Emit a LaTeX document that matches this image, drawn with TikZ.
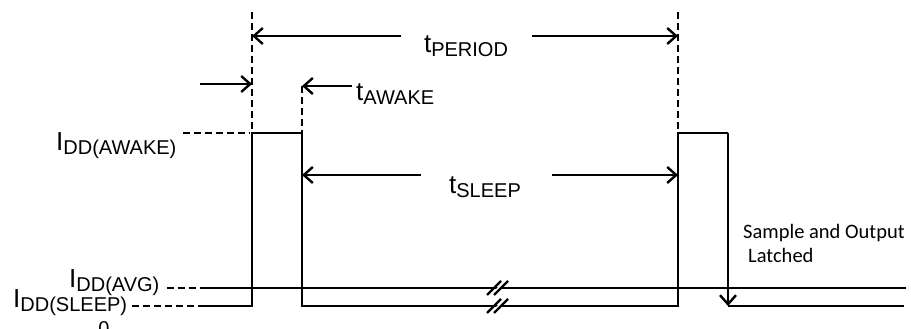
\documentclass[tikz,border=0pt]{standalone}
\usepackage{fontspec}
\setmainfont{Liberation Sans}
\newfontfamily\calfont{Carlito}
\usepackage{tikz}
\usetikzlibrary{arrows.meta,positioning}

\newcommand{\lowsub}[1]{\raisebox{-4pt}{\fontsize{20}{20}\selectfont #1}}

\begin{document}
\begin{tikzpicture}[x=1pt,y=-1pt,line width=2.4pt,
                    >={Straight Barb[length=9pt,width=16pt]}]
  \tikzstyle{every node}=[inner sep=0pt,font=\fontsize{26}{28}\selectfont]
  \tikzstyle{guide}=[dash pattern=on 7pt off 4pt]
  \tikzstyle{note}=[anchor=base west,font=\calfont\fontsize{20.5}{24}\selectfont]

  \useasboundingbox (0,0) rectangle (911,329);

  \coordinate (s0) at (205,306);
  \coordinate (a0) at (205,288);
  \coordinate (r1b) at (252,306);
  \coordinate (r1t) at (252,133);
  \coordinate (f1t) at (302,133);
  \coordinate (f1b) at (302,306);
  \coordinate (r2b) at (678,306);
  \coordinate (r2t) at (678,133);
  \coordinate (f2t) at (728,133);
  \coordinate (f2b) at (728,306);
  \coordinate (s1) at (904,306);
  \coordinate (a1) at (906,288);
  \coordinate (g1) at (252,12);
  \coordinate (g2) at (302,86);
  \coordinate (g3) at (678,12);
  \coordinate (pL) at (401,36);
  \coordinate (pR) at (532,36);
  \coordinate (wIn) at (200,84);
  \coordinate (wOut) at (352,86);
  \coordinate (sL) at (421,175);
  \coordinate (sR) at (552,175);

  \node[anchor=base west] (awake) at (55,150) {I\lowsub{DD(AWAKE)}};
  \node[anchor=base west] (avg) at (68,287) {I\lowsub{DD(AVG)}};
  \node[anchor=base west] (sleep) at (12,307) {I\lowsub{DD(SLEEP)}};
  \node[anchor=base,font=\fontsize{20}{20}\selectfont] (zero) at (104,335) {0};
  \node[anchor=base] (tper) at (466,53) {t\lowsub{PERIOD}};
  \node[anchor=base west] (taw) at (355,100) {t\lowsub{AWAKE}};
  \node[anchor=base] (tsl) at (485,193) {t\lowsub{SLEEP}};
  \node[note] (samp) at (742,238) {Sample and Output};
  \node[note] (latch) at (747,262) {Latched};

  \draw (s0) -- (r1b) -- (r1t) -- (f1t) -- (f1b) -- (r2b) -- (r2t) -- (f2t);
  \draw[->] (f2t) -- (f2b);
  \draw (f2b) -- (s1);
  \draw (a0) -- (a1);

  \draw[guide] (g1) -- (r1t);
  \draw[guide] (g2) -- (f1t);
  \draw[guide] (g3) -- (r2t);
  \draw[guide,shorten <=5pt,shorten >=3pt] (r1t -| awake.east) -- (r1t);
  \draw[guide,shorten <=6pt] (a0 -| avg.east) -- (a0);
  \draw[guide,shorten <=4pt] (s0 -| sleep.east) -- (s0);

  \draw[->] (pL) -- (pL -| g1);
  \draw[->] (pR) -- (pR -| g3);
  \draw[->] (wIn) -- (wIn -| g1);
  \draw[->] (wOut) -- (wOut -| g2);
  \draw[->] (sL) -- (sL -| g2);
  \draw[->] (sR) -- (sR -| g3);

  \foreach \y in {288,306}{
    \fill[white] (490,\y+7) -- (494,\y+7) -- (508,\y-7) -- (504,\y-7) -- cycle;
    \draw (487,\y+7) -- (501,\y-7);
    \draw (494,\y+7) -- (508,\y-7);
  }
\end{tikzpicture}
\end{document}
